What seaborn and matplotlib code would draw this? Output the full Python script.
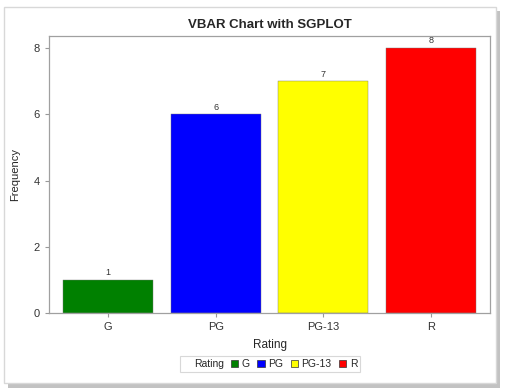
import pandas as pd
import matplotlib.pyplot as plt
import matplotlib.patches as mpatches
import seaborn as sns

sns.set_style('white')
plt.rcParams['font.family'] = ['Liberation Sans', 'DejaVu Sans']

ratings = ['G', 'PG', 'PG-13', 'R']
counts = [1, 6, 7, 8]
colors = ['#008000', '#0000FF', '#FFFF00', '#FF0000']

df = pd.DataFrame({'Rating': ratings, 'Frequency': counts})

fig = plt.figure(figsize=(5.14, 3.91), dpi=100)
fig.patch.set_facecolor('white')

# panel with drop shadow
shadow = mpatches.Rectangle((8 / 514, 1 - 388 / 391), 492 / 514, 377 / 391,
                            transform=fig.transFigure, facecolor='#9a9a9a',
                            edgecolor='none', alpha=0.6, zorder=0)
panel = mpatches.Rectangle((4 / 514, 1 - 383 / 391), 492 / 514, 376 / 391,
                           transform=fig.transFigure, facecolor='white',
                           edgecolor='#d8d8d8', linewidth=1, zorder=1)
fig.patches.extend([shadow, panel])

ax = fig.add_axes([49 / 514, 1 - 313 / 391, 441 / 514, 277 / 391])
ax.set_zorder(2)
sns.barplot(data=df, x='Rating', y='Frequency', hue='Rating', palette=colors,
            saturation=1, width=0.84, edgecolor='#777777', linewidth=0.3,
            legend=False, ax=ax)

for c in ax.containers:
    ax.bar_label(c, fontsize=6.5, padding=2, color='#333333')

ax.set_xlim(-0.55, 3.55)
ax.set_ylim(0, 8.37)
ax.set_yticks([0, 2, 4, 6, 8])
ax.tick_params(axis='both', labelsize=8, colors='#333333', length=3,
               direction='out', left=True, bottom=True)
ax.tick_params(axis='both', color='#999999')
for s in ax.spines.values():
    s.set_color('#a0a0a0')
    s.set_linewidth(0.9)

ax.set_xlabel('Rating', fontsize=8.5, labelpad=5)
ax.set_ylabel('Frequency', fontsize=8, labelpad=10)
ax.set_title('VBAR Chart with SGPLOT', fontsize=9.5, fontweight='bold', pad=6)

handles = [mpatches.Patch(visible=False)]
handles += [mpatches.Patch(facecolor=c, edgecolor='#333333', linewidth=0.5) for c in colors]
leg = fig.legend(handles, ['Rating'] + ratings, loc='center', ncol=5,
                 bbox_to_anchor=(270 / 514, 1 - 364 / 391), fontsize=7.5,
                 frameon=True, fancybox=False, handlelength=0.7, handleheight=0.7,
                 handletextpad=0.35, columnspacing=0.7, borderpad=0.3)
leg.get_frame().set_edgecolor('#cfcfcf')
leg.get_frame().set_linewidth(0.8)
leg.set_zorder(3)

fig.savefig('out.png', dpi=100)
